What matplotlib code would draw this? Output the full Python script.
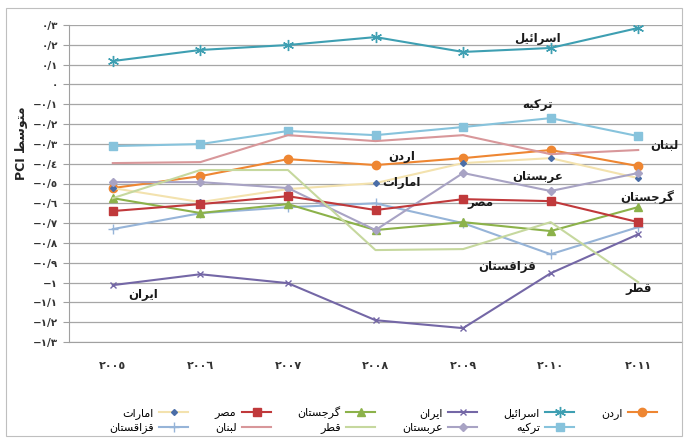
import matplotlib
matplotlib.use("Agg")
import matplotlib.pyplot as plt
from matplotlib.patches import Rectangle

# ---------- Data ----------

years = ["٢٠٠٥", "٢٠٠٦", "٢٠٠٧", "٢٠٠٨", "٢٠٠٩", "٢٠١٠", "٢٠١١"]

israel = [0.118, 0.174, 0.199, 0.239, 0.164, 0.184, 0.285]
turkey = [-0.311, -0.301, -0.235, -0.256, -0.215, -0.170, -0.261]
lebanon = [-0.397, -0.392, -0.256, -0.286, -0.256, -0.352, -0.331]
jordan = [-0.523, -0.463, -0.377, -0.407, -0.372, -0.331, -0.412]
emirates = [-0.523, -0.594, -0.528, -0.498, -0.397, -0.372, -0.473]
egypt = [-0.639, -0.604, -0.564, -0.634, -0.579, -0.589, -0.695]
georgia = [-0.574, -0.649, -0.604, -0.735, -0.695, -0.740, -0.619]
iran = [-1.013, -0.958, -1.003, -1.190, -1.230, -0.953, -0.756]
kazakhstan = [-0.730, -0.650, -0.620, -0.600, -0.700, -0.857, -0.720]
qatar = [-0.574, -0.432, -0.432, -0.836, -0.831, -0.695, -0.998]
arabestan = [-0.493, -0.493, -0.523, -0.735, -0.447, -0.538, -0.447]

yticks = [0.3, 0.2, 0.1, 0, -0.1, -0.2, -0.3, -0.4, -0.5, -0.6, -0.7,
          -0.8, -0.9, -1.0, -1.1, -1.2, -1.3]

# ---------- Arabic shaping (matplotlib has no RTL layout) ----------

FORMS = {
    "\u0627": ("\uFE8D", "\uFE8E", None, None),
    "\u0628": ("\uFE8F", "\uFE90", "\uFE91", "\uFE92"),
    "\u062A": ("\uFE95", "\uFE96", "\uFE97", "\uFE98"),
    "\u062C": ("\uFE9D", "\uFE9E", "\uFE9F", "\uFEA0"),
    "\u062F": ("\uFEA9", "\uFEAA", None, None),
    "\u0631": ("\uFEAD", "\uFEAE", None, None),
    "\u0632": ("\uFEAF", "\uFEB0", None, None),
    "\u0633": ("\uFEB1", "\uFEB2", "\uFEB3", "\uFEB4"),
    "\u0635": ("\uFEB9", "\uFEBA", "\uFEBB", "\uFEBC"),
    "\u0637": ("\uFEC1", "\uFEC2", "\uFEC3", "\uFEC4"),
    "\u0639": ("\uFEC9", "\uFECA", "\uFECB", "\uFECC"),
    "\u0642": ("\uFED5", "\uFED6", "\uFED7", "\uFED8"),
    "\u0644": ("\uFEDD", "\uFEDE", "\uFEDF", "\uFEE0"),
    "\u0645": ("\uFEE1", "\uFEE2", "\uFEE3", "\uFEE4"),
    "\u0646": ("\uFEE5", "\uFEE6", "\uFEE7", "\uFEE8"),
    "\u0647": ("\uFEE9", "\uFEEA", "\uFEEB", "\uFEEC"),
    "\u0626": ("\uFE89", "\uFE8A", "\uFE8B", "\uFE8C"),
    "\u0648": ("\uFEED", "\uFEEE", None, None),
    "\u06CC": ("\uFBFC", "\uFBFD", "\uFBFE", "\uFBFF"),
    "\u06A9": ("\uFB8E", "\uFB8F", "\uFB90", "\uFB91"),
    "\u06AF": ("\uFB92", "\uFB93", "\uFB94", "\uFB95"),
}


def fa(word):
    out = []
    for i, c in enumerate(word):
        if c not in FORMS:
            out.append(c)
            continue
        prev = word[i - 1] if i > 0 else None
        nxt = word[i + 1] if i + 1 < len(word) else None
        join_prev = prev in FORMS and FORMS[prev][2] is not None
        join_next = nxt in FORMS and FORMS[c][2] is not None
        iso, fin, ini, med = FORMS[c]
        if join_prev and join_next:
            out.append(med)
        elif join_prev:
            out.append(fin)
        elif join_next:
            out.append(ini)
        else:
            out.append(iso)
    return "".join(reversed(out))


def fa_num(v):
    digits = "٠١٢٣٤٥٦٧٨٩"
    s = f"{abs(v):.1f}".rstrip("0").rstrip(".")
    s = "".join(digits[int(ch)] if ch.isdigit() else "/" for ch in s)
    return ("−" if v < 0 else "") + s


# ---------- Plot ----------

plt.rcParams["font.family"] = ["DejaVu Sans"]

fig = plt.figure(figsize=(6.85, 4.38), dpi=100)
ax = fig.add_axes([69 / 685, 1 - 342 / 438, 613 / 685, 317 / 438])

x = list(range(len(years)))

series = [
    ("اردن", jordan, dict(color="#EE8632", marker="o", ms=6)),
    ("امارات", emirates, dict(color="#F3E2AE", marker="D", ms=3, mfc="#4A6DA7", mec="#4A6DA7")),
    ("اسرائیل", israel, dict(color="#3E9FB2", marker=(6, 2, 0), ms=8, mew=1.0)),
    ("قزاقستان", kazakhstan, dict(color="#96B4D8", marker="+", ms=7)),
    ("ایران", iran, dict(color="#7467A6", marker="x", ms=5)),
    ("ترکیه", turkey, dict(color="#87C3DC", marker="s", ms=6)),
    ("گرجستان", georgia, dict(color="#8CB24A", marker="^", ms=6)),
    ("عربستان", arabestan, dict(color="#A8A3C4", marker="D", ms=4)),
    ("مصر", egypt, dict(color="#C0393B", marker="s", ms=6)),
    ("قطر", qatar, dict(color="#C6D89E")),
    ("لبنان", lebanon, dict(color="#D8979A")),
]

handles = {}
for name, vals, style in series:
    line, = ax.plot(x, vals, lw=1.5, label=fa(name), **style)
    handles[name] = line

ax.set_xlim(-0.5, 6.5)
ax.set_ylim(-1.3, 0.3)
ax.set_yticks(yticks)
ax.set_yticklabels([fa_num(v) for v in yticks], fontsize=7.5, fontweight="bold", color="#333333")
ax.set_xticks(x)
ax.set_xticklabels(years, fontsize=8, fontweight="bold", color="#333333")
ax.tick_params(axis="x", length=0, pad=14)
ax.tick_params(axis="y", length=4, color="#A0A0A0", pad=4)
ax.grid(True, axis="y", color="#A6A6A6", lw=0.9)
ax.set_axisbelow(True)
for s in ["top", "right"]:
    ax.spines[s].set_visible(False)
for s in ["left", "bottom"]:
    ax.spines[s].set_color("#A0A0A0")

fig.text(22 / 685, 1 - 143 / 438, "PCI " + fa("متوسط"), rotation=90,
         ha="center", va="center", fontsize=9, fontweight="bold", color="#222222")

# inline labels
labels = [
    ("اسرائیل", 4.85, 0.232),
    ("ترکیه", 4.85, -0.10),
    ("لبنان", 6.3, -0.31),
    ("اردن", 3.3, -0.363),
    ("امارات", 3.3, -0.495),
    ("عربستان", 4.85, -0.465),
    ("مصر", 4.2, -0.595),
    ("گرجستان", 6.1, -0.570),
    ("قزاقستان", 4.5, -0.920),
    ("قطر", 6.0, -1.030),
    ("ایران", 0.35, -1.058),
]
for name, lx, ly in labels:
    ax.text(lx, ly, fa(name), ha="center", va="center", fontsize=8.5,
            fontweight="bold", color="#1a1a1a")

# legend, right-to-left
order = ["امارات", "قزاقستان", "مصر", "لبنان", "گرجستان", "قطر",
         "ایران", "عربستان", "اسرائیل", "ترکیه", "اردن"]
fig.legend([handles[n] for n in order], [fa(n) for n in order],
           loc="center", bbox_to_anchor=(383 / 685, 1 - 420 / 438), ncol=6,
           markerfirst=False, frameon=False, fontsize=8, handlelength=2.6,
           columnspacing=2.4, labelspacing=0.3, handletextpad=0.5)

fig.add_artist(Rectangle((6 / 685, 2 / 438), 676 / 685, 428 / 438,
                         transform=fig.transFigure, fill=False,
                         edgecolor="#BFBFBF", lw=0.8))

plt.savefig("out.png", dpi=100)
